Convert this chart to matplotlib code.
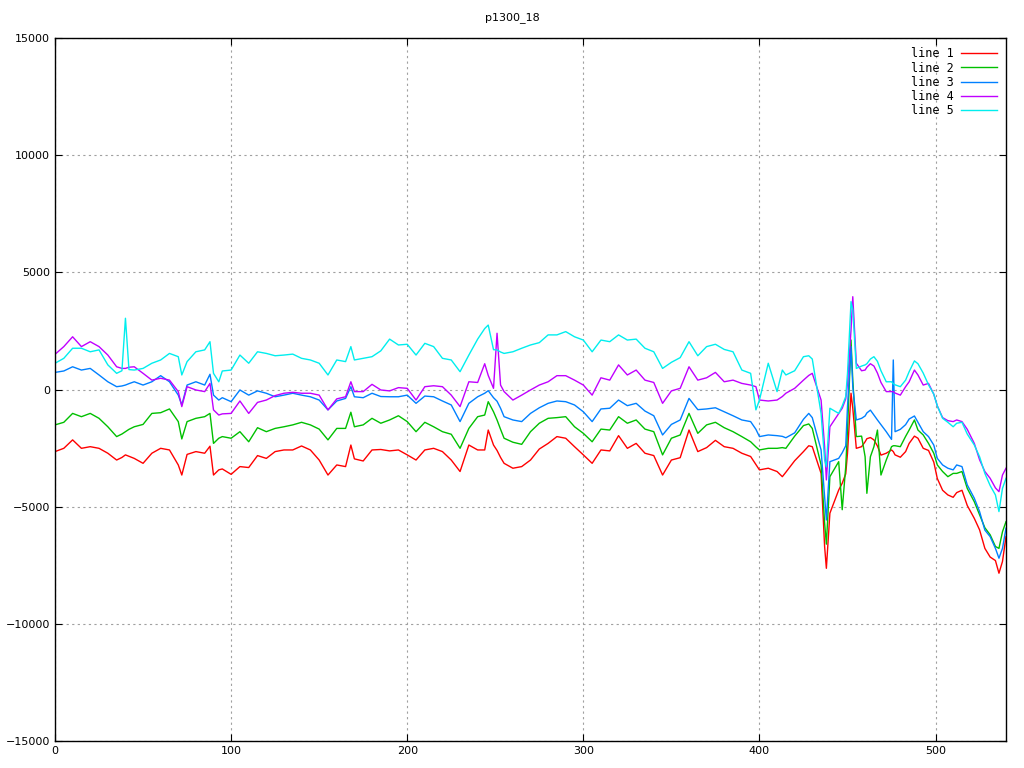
import matplotlib
matplotlib.use("Agg")
import matplotlib.pyplot as plt

# sample positions shared by all five series
x = [0, 5, 10, 15, 20, 25, 30, 35, 38, 40, 42,
     45, 50, 55, 60, 65, 70, 72, 75, 80, 85, 88, 90, 93,
     95, 100, 105, 110, 115, 120, 125, 130, 135, 140, 145, 150, 155, 160, 165, 168,
     170, 175, 180, 185, 190, 195, 200, 205, 210, 215, 220, 225, 230, 235, 240,
     244, 246, 249, 251, 253, 255, 260, 265, 270, 275, 280, 285, 290, 295, 300,
     305, 310, 315, 320, 325, 330, 335, 340, 345, 350, 355, 360, 365, 370,
     375, 380, 385, 390, 395, 398, 400, 405, 410, 413, 415, 420, 425, 428, 430, 435, 437,
     438, 440, 445, 447, 449, 450, 452, 453, 455, 458, 460, 461, 463, 465, 467, 469, 472, 475, 476,
     477, 480, 483, 485, 488, 490, 493, 496, 499, 501, 504, 507, 510, 512, 515, 518, 522, 525, 528, 531, 534, 536, 538, 540]

line1 = [-2650, -2510, -2150, -2510, -2440, -2510, -2720, -3010, -2900, -2790, -2850,
         -2940, -3150, -2720, -2510, -2580, -3220, -3650, -2770, -2650, -2720, -2420, -3650, -3430,
         -3390, -3620, -3290, -3330, -2820, -2940, -2650, -2580, -2580, -2410, -2580, -3010, -3650, -3220, -3290, -2370,
         -2960, -3050, -2580, -2560, -2620, -2580, -2790, -3010, -2580, -2510, -2650, -3010, -3500, -2370, -2580,
         -2580, -1730, -2370, -2600, -2900, -3150, -3360, -3290, -3010, -2540, -2300, -2010, -2080, -2440, -2790,
         -3150, -2580, -2620, -1970, -2510, -2300, -2720, -2820, -3650, -3010, -2910, -1730, -2650, -2480,
         -2170, -2440, -2510, -2720, -2860, -3200, -3430, -3360, -3500, -3720, -3530, -3040, -2650, -2400, -2440, -3580, -6700,
         -7630, -5280, -4290, -4000, -3600, -2720, -160, -800, -2510, -2440, -2230, -2100, -2050, -2150, -2410, -2800, -2720, -2580, -2650,
         -2790, -2890, -2650, -2300, -1990, -2080, -2510, -2600, -3100, -3800, -4300, -4500, -4600, -4400, -4300, -4950, -5500, -5990, -6780, -7150, -7300, -7840, -7340, -6280]

line2 = [-1510, -1400, -1020, -1160, -1020, -1230, -1590, -2010, -1900, -1800, -1700,
         -1590, -1490, -1020, -990, -830, -1370, -2110, -1370, -1230, -1160, -1020, -2300, -2080,
         -2010, -2080, -1800, -2230, -1630, -1800, -1660, -1590, -1510, -1400, -1510, -1690, -2150, -1660, -1660, -970,
         -1590, -1510, -1230, -1440, -1300, -1120, -1370, -1800, -1400, -1590, -1800, -1910, -2510, -1660, -1160,
         -1090, -520, -950, -1300, -1700, -2080, -2250, -2340, -1800, -1440, -1230, -1200, -1160, -1590, -1870,
         -2230, -1690, -1730, -1160, -1440, -1300, -1690, -1800, -2790, -2080, -1940, -1020, -1870, -1510,
         -1400, -1630, -1800, -2010, -2230, -2450, -2580, -2510, -2510, -2480, -2510, -1990, -1540, -1470, -1660, -3220, -5700,
         -6600, -3720, -3080, -5130, -3290, -1730, 2110, 400, -2010, -1990, -2870, -4430, -2870, -2440, -1730, -3650, -3010, -2440, -2400,
         -2400, -2440, -2000, -1730, -1300, -1730, -1940, -2300, -2720, -3220, -3500, -3720, -3580, -3580, -3500, -4220, -4790, -5350, -5900, -6200, -6700, -6780, -6070, -5640]

line3 = [730, 790, 970, 830, 900, 620, 330, 120, 150, 190, 250,
         330, 190, 330, 590, 330, -240, -660, 190, 330, 190, 650, -240, -450,
         -350, -520, -20, -240, -60, -160, -310, -240, -160, -240, -310, -450, -870, -490, -380, 120,
         -310, -350, -160, -300, -310, -310, -240, -590, -280, -310, -490, -660, -1370, -590, -310,
         -160, -50, -350, -500, -800, -1160, -1300, -1370, -1020, -780, -590, -490, -520, -660, -950,
         -1370, -830, -800, -450, -690, -590, -920, -1120, -1940, -1490, -1300, -380, -860, -830,
         -780, -950, -1120, -1300, -1370, -1700, -2010, -1940, -1970, -2000, -2060, -1850, -1270, -1020, -1200, -2580, -4570,
         -5570, -3080, -2940, -2700, -2400, -730, 1830, 120, -1300, -1230, -1130, -1000, -880, -1090, -1300, -1500, -1800, -2130, 1260,
         -1800, -1700, -1500, -1260, -1130, -1400, -1800, -2010, -2370, -2940, -3220, -3360, -3430, -3220, -3290, -4070, -4640, -5210, -6000, -6280, -6780, -7200, -6780, -5920]

line4 = [1500, 1830, 2250, 1830, 2040, 1830, 1470, 970, 900, 900, 950,
         970, 690, 400, 480, 400, -90, -730, 120, -20, -90, 260, -870, -1090,
         -1040, -1020, -490, -1020, -550, -450, -260, -160, -120, -160, -160, -240, -870, -400, -310, 330,
         -90, -90, 220, -20, -60, 80, 50, -450, 120, 160, 120, -240, -730, 330, 300,
         1100, 600, 50, 2400, 190, -90, -450, -240, -20, 190, 330, 590, 590, 400, 190,
         -240, 500, 400, 1050, 620, 830, 400, 300, -590, -60, 50, 970, 400, 500,
         730, 330, 400, 260, 190, 120, -450, -490, -450, -300, -160, 50, 400, 600, 690, -450, -2440,
         -3860, -1590, -1020, -800, -400, 260, 2540, 3960, 1120, 800, 830, 950, 1100, 1000, 700, 300, -90, -90, -90,
         -150, -240, 120, 330, 830, 620, 190, 260, -200, -700, -1200, -1330, -1370, -1300, -1370, -1700, -2300, -3000, -3500, -3790, -4200, -4360, -3650, -3360]

line5 = [1120, 1330, 1760, 1760, 1610, 1690, 1050, 690, 800, 3040, 850,
         830, 900, 1120, 1260, 1540, 1400, 620, 1190, 1610, 1690, 2040, 690, 330,
         790, 830, 1470, 1120, 1610, 1540, 1440, 1470, 1510, 1330, 1260, 1120, 620, 1260, 1190, 1830,
         1260, 1330, 1400, 1650, 2150, 1900, 1930, 1470, 1970, 1830, 1330, 1260, 760, 1470, 2150,
         2600, 2750, 1700, 1690, 1600, 1540, 1610, 1760, 1900, 2000, 2330, 2330, 2470, 2250, 2110,
         1610, 2110, 2040, 2330, 2110, 2150, 1760, 1610, 900, 1160, 1360, 2040, 1440, 1830,
         1930, 1710, 1610, 830, 690, -870, -450, 1120, -90, 830, 620, 800, 1400, 1440, 1300, -1020, -3000,
         -3300, -800, -1020, -700, -300, 690, 3750, 3400, 900, 1000, 1050, 1100, 1300, 1400, 1200, 800, 330, 330, 250,
         200, 120, 400, 760, 1220, 1100, 700, 200, -200, -700, -1230, -1400, -1590, -1440, -1400, -1900, -2370, -2870, -3580, -4100, -4500, -5210, -4220, -3790]

series = [line1, line2, line3, line4, line5]
labels = ["line 1", "line 2", "line 3", "line 4", "line 5"]
colors = ["#ff0000", "#00c000", "#0080ff", "#c000ff", "#00eeee"]

fig = plt.figure(figsize=(10.24, 7.68), dpi=100)
ax = fig.add_axes([55 / 1024, 27 / 768, 951 / 1024, 703 / 768])

for ys, lab, c in zip(series, labels, colors):
    ax.plot(x, ys, color=c, linewidth=1, label=lab)

ax.set_xlim(0, 540)
ax.set_ylim(-15000, 15000)
ax.set_xticks([0, 100, 200, 300, 400, 500])
ax.set_yticks([-15000, -10000, -5000, 0, 5000, 10000, 15000])
ax.grid(True, color="#a0a0a0", linestyle=(0, (2, 3)), linewidth=0.8)
ax.tick_params(direction="in", top=True, right=True, labelsize=8, length=5)
for s in ax.spines.values():
    s.set_linewidth(1)

fig.text(0.5, 1 - 18 / 768, "p1300_18", ha="center", va="center", fontsize=8)

leg = ax.legend(loc="upper right", frameon=False, markerfirst=False,
                prop={"family": "DejaVu Sans Mono", "size": 8.5},
                handlelength=3.0, handletextpad=0.6, labelspacing=0.1,
                borderaxespad=0.4)
for t in leg.get_texts():
    t.set_ha("right")

fig.savefig("out.png", dpi=100)
